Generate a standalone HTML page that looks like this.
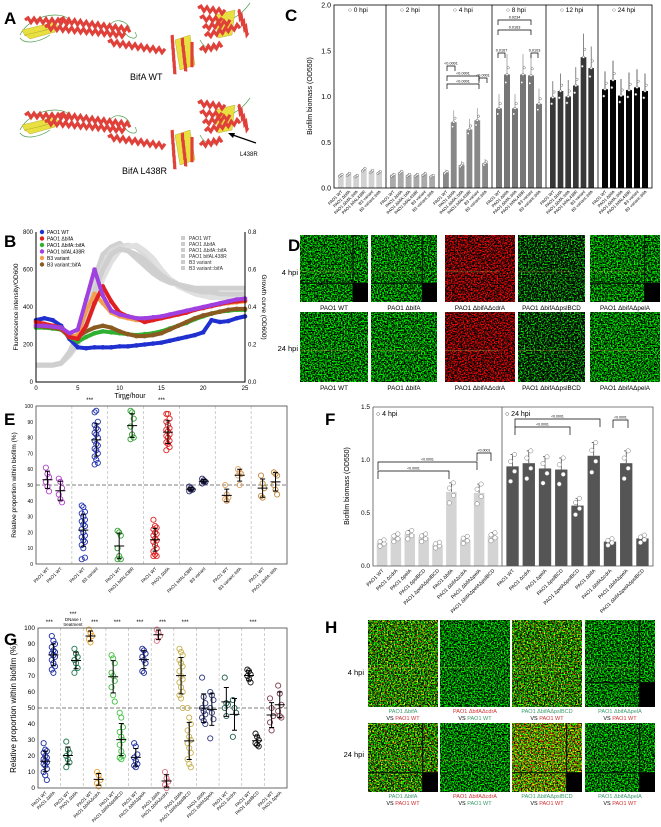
<!DOCTYPE html>
<html><head><meta charset="utf-8"><style>
html,body{margin:0;padding:0;background:#fff;}
svg{display:block;font-family:"Liberation Sans",sans-serif;}
</style></head><body>
<svg id="fig" width="661" height="827" viewBox="0 0 661 827" xmlns="http://www.w3.org/2000/svg">
<defs>
<filter id="fg" x="0" y="0" width="100%" height="100%" color-interpolation-filters="sRGB"><feTurbulence type="fractalNoise" baseFrequency="0.7" numOctaves="2" seed="3"/><feColorMatrix type="matrix" values="0 0 0 0 0  0 0 0 4 -1.6  0 0 0 0 0  0 0 0 0 1"/></filter>
<filter id="fgb" x="0" y="0" width="100%" height="100%" color-interpolation-filters="sRGB"><feTurbulence type="fractalNoise" baseFrequency="0.7" numOctaves="2" seed="7"/><feColorMatrix type="matrix" values="0 0 0 0 0.02  0 0 0 4 -1.85  0 0 0 0 0.02  0 0 0 0 1"/></filter>
<filter id="fr" x="0" y="0" width="100%" height="100%" color-interpolation-filters="sRGB"><feTurbulence type="fractalNoise" baseFrequency="0.7" numOctaves="2" seed="5"/><feColorMatrix type="matrix" values="0 0 0 4.5 -1.9  0 0 0 0 0.02  0 0 0 0 0.02  0 0 0 0 1"/></filter>
<filter id="fm" x="0" y="0" width="100%" height="100%" color-interpolation-filters="sRGB">
<feTurbulence type="fractalNoise" baseFrequency="0.7" numOctaves="2" seed="9" result="n1"/>
<feColorMatrix in="n1" type="matrix" values="0 0 0 0 0  0 0 0 4 -1.6  0 0 0 0 0  0 0 0 0 1" result="g1"/>
<feTurbulence type="fractalNoise" baseFrequency="0.7" numOctaves="2" seed="21" result="n2"/>
<feColorMatrix in="n2" type="matrix" values="0 0 0 5 -2.6  0 0 0 1.5 -0.8  0 0 0 0 0  0 0 0 0 1" result="r1"/>
<feComposite in="g1" in2="r1" operator="arithmetic" k1="0" k2="1" k3="1" k4="0"/>
</filter>
<filter id="fy" x="0" y="0" width="100%" height="100%" color-interpolation-filters="sRGB">
<feTurbulence type="fractalNoise" baseFrequency="0.7" numOctaves="2" seed="11" result="n1"/>
<feColorMatrix in="n1" type="matrix" values="0 0 0 0 0  0 0 0 4 -1.5  0 0 0 0 0  0 0 0 0 1" result="g1"/>
<feTurbulence type="fractalNoise" baseFrequency="0.7" numOctaves="2" seed="23" result="n2"/>
<feColorMatrix in="n2" type="matrix" values="0 0 0 4 -1.7  0 0 0 0 0  0 0 0 0 0  0 0 0 0 1" result="r1"/>
<feComposite in="g1" in2="r1" operator="arithmetic" k1="0" k2="1" k3="1" k4="0"/>
</filter>
</defs>
<g id="A">
<text x="4" y="24" font-size="17" font-weight="bold">A</text>
<text x="130" y="80" font-size="9">BifA WT</text>
<text x="122" y="174" font-size="9">BifA L438R</text>
<line x1="256" y1="143" x2="230" y2="134" stroke="#000" stroke-width="1.3"/>
<polygon points="228,133 235,133 233,138" fill="#000"/>
<text x="240" y="156" font-size="6">L438R</text>
</g>
<g id="B"></g><g id="C"></g><g id="D"></g><g id="E"></g><g id="F"></g><g id="G"></g><g id="H"></g>
</svg>
<script>
const NS="http://www.w3.org/2000/svg";
function mk(tag,at,p){const e=document.createElementNS(NS,tag);for(const k in at)e.setAttribute(k,at[k]);p.appendChild(e);return e;}
function tx(p,x,y,s,size,opt){const e=mk('text',Object.assign({x:x,y:y,'font-size':size||6},opt||{}),p);e.textContent=s;return e;}
function mean(a){return a.reduce((s,v)=>s+v,0)/a.length;}
function sd(a){const m=mean(a);return Math.sqrt(a.reduce((s,v)=>s+(v-m)*(v-m),0)/Math.max(1,a.length-1));}

/* ---------- Panel A decorative ribbons ---------- */
(function(){
const g=document.getElementById('A');
function helix(x1,y1,x2,y2){let d='M'+x1+' '+y1;const n=Math.round(Math.hypot(x2-x1,y2-y1)/3);for(let i=1;i<=n;i++){const t=i/n;const x=x1+(x2-x1)*t,y=y1+(y2-y1)*t;d+=' L'+x.toFixed(1)+' '+(y+(i%2?-2.2:2.2)).toFixed(1);}
const e=mk('path',{d:d,stroke:'#e0403a','stroke-width':3.2,fill:'none'},g);

}
function sheet(pts){const e=mk('polygon',{points:pts,fill:'#e8e040',stroke:'#b0a020','stroke-width':0.4},g);

}
function loop(d){const e=mk('path',{d:d,stroke:'#50a050','stroke-width':0.7,fill:'none'},g);

}
[0,95].forEach(o=>{
 loop(`M20 ${35+o} C30 ${15+o},60 ${10+o},70 ${20+o} M20 ${38+o} C25 ${45+o},40 ${42+o},50 ${35+o} M110 ${25+o} C115 ${18+o},125 ${20+o},130 ${28+o} M125 ${33+o} C130 ${40+o},140 ${40+o},135 ${32+o} M200 ${40+o} C205 ${50+o},215 ${52+o},220 ${45+o} M230 ${20+o} C240 ${15+o},245 ${10+o},250 ${3+o}`);
 sheet(`22,${30+o} 55,${22+o} 58,${26+o} 25,${36+o}`);sheet(`25,${35+o} 55,${28+o} 55,${32+o} 30,${39+o}`);
 helix(25,20+o,70,22+o);helix(60,20+o,130,30+o);helix(45,27+o,125,35+o);helix(108,42+o,165,51+o);
 sheet(`175,${40+o} 190,${35+o} 195,${65+o} 180,${70+o}`);
 helix(172,35+o,175,75+o);helix(182,38+o,186,72+o);helix(192,42+o,192,68+o);
 sheet(`215,${15+o} 235,${10+o} 232,${35+o} 218,${38+o}`);
 helix(198,8+o,225,12+o);helix(200,18+o,222,20+o);helix(203,28+o,230,22+o);helix(205,36+o,240,26+o);helix(238,10+o,248,35+o);helix(200,50+o,222,45+o);
});
})();

/* ---------- Panel B ---------- */
const bTimes=[0,1,2,3,4,5,6,7,8,9,10,11,12,13,14,15,16,17,18,19,20,21,22,23,24,25];
const bWT=[330,340,330,300,230,185,180,185,185,185,190,190,195,200,205,210,220,230,240,250,265,330,320,325,340,350];
const bBifA=[320,310,300,290,240,230,300,420,510,430,370,350,340,320,330,340,350,360,370,385,395,405,415,425,430,435];
const bComp=[290,290,285,280,240,215,240,260,270,265,260,255,250,255,260,270,285,300,315,335,350,365,375,380,385,385];
const bL438R=[300,300,295,290,260,280,440,600,460,380,360,350,340,340,345,350,360,370,380,390,400,410,420,430,440,445];
const bB3=[310,305,300,290,240,250,380,470,420,370,350,340,330,330,335,345,355,365,375,385,395,405,415,420,425,430];
const bB3c=[300,295,290,280,250,240,270,290,300,290,270,255,245,245,250,260,280,300,320,340,355,365,375,385,390,390];
const gWT=[0.09,0.09,0.09,0.1,0.16,0.25,0.4,0.55,0.68,0.72,0.74,0.7,0.66,0.62,0.58,0.55,0.53,0.52,0.51,0.5,0.5,0.5,0.5,0.5,0.5,0.5];
const gBifA=[0.09,0.09,0.09,0.1,0.15,0.22,0.35,0.5,0.62,0.7,0.72,0.73,0.72,0.68,0.63,0.58,0.55,0.52,0.5,0.49,0.48,0.47,0.46,0.46,0.45,0.45];
const gL438R=[0.09,0.09,0.09,0.1,0.14,0.2,0.3,0.42,0.55,0.64,0.7,0.72,0.73,0.7,0.66,0.6,0.55,0.51,0.49,0.47,0.46,0.45,0.45,0.44,0.44,0.44];
const gB3=[0.09,0.09,0.09,0.1,0.15,0.21,0.33,0.48,0.6,0.68,0.71,0.7,0.68,0.65,0.61,0.57,0.54,0.52,0.5,0.49,0.48,0.48,0.47,0.47,0.47,0.47];
(function(){
const g=document.getElementById('B');
const X0=36,X1=245,Y0=382,Y1=232;
const xs=t=>X0+(X1-X0)*t/25, yl=v=>Y0-(Y0-Y1)*v/800, yr=v=>Y0-(Y0-Y1)*v/0.8;
let e=tx(g,4,247,'B',17,{'font-weight':'bold'});


[gWT,gBifA,gL438R,gB3].forEach((s,i)=>{
 const l=mk('polyline',{points:s.map((v,j)=>xs(bTimes[j])+','+yr(v)).join(' '),fill:'none',stroke:['#d0d0d0','#dadada','#e0e0e0','#cfcfcf'][i],'stroke-width':5,'stroke-linejoin':'round'},g);
 
 
});
const ser=[[bWT,'#2030d0'],[bComp,'#30b030'],[bB3c,'#8a5a20'],[bB3,'#f0a050'],[bBifA,'#e02020'],[bL438R,'#a040e0']];
ser.forEach(([s,c])=>{
 const l=mk('polyline',{points:s.map((v,j)=>xs(bTimes[j])+','+yl(v)).join(' '),fill:'none',stroke:c,'stroke-width':4,'stroke-linejoin':'round'},g);
 
 
 s.forEach((v,j)=>{const m=mk('circle',{cx:xs(bTimes[j]),cy:yl(v),r:2.3,fill:c},g);
 
 });
});
const ax=mk('path',{d:`M${X0} ${Y1} V${Y0} H${X1} V${Y1}`,fill:'none',stroke:'#000','stroke-width':1},g);


[0,200,400,600,800].forEach(v=>{const t=tx(g,X0-3,yl(v)+2,String(v),6,{'text-anchor':'end'});

});
[0,0.2,0.4,0.6,0.8].forEach(v=>{const t=tx(g,X1+3,yr(v)+2,v.toFixed(1),6);

});
[0,5,10,15,20,25].forEach(v=>{const t=tx(g,xs(v),Y0+8,String(v),6,{'text-anchor':'middle'});

});
e=tx(g,130,398,'Time/hour',7,{'text-anchor':'middle'});


e=tx(g,0,0,'Fluorescence intensity/OD600',6.5,{'text-anchor':'middle',transform:'translate(18,307) rotate(-90)'});


e=tx(g,0,0,'Growth curve (OD600)',6.5,{'text-anchor':'middle',transform:'translate(262,307) rotate(90)'});


const legL=[['PAO1 WT','#2030d0'],['PAO1 ΔbifA','#e02020'],['PAO1 ΔbifA::bifA','#30b030'],['PAO1 bifAL438R','#a040e0'],['B3 variant','#f0a050'],['B3 variant::bifA','#8a5a20']];
legL.forEach(([n,c],i)=>{const m=mk('circle',{cx:42,cy:232+i*6.5,r:2.2,fill:c},g);


const t=tx(g,47,234+i*6.5,n,5);

});
legL.forEach(([n],i)=>{const m=mk('rect',{x:181,y:236+i*6,width:4,height:4,fill:'#ccc'},g);


const t=tx(g,189,240+i*6,n,5,{fill:'#333'});

});
})();

/* ---------- Panel C ---------- */
const cTimes=['0 hpi','2 hpi','4 hpi','8 hpi','12 hpi','24 hpi'];
const cStrains=['PAO1 WT','PAO1 ΔbifA','PAO1 ΔbifA::bifA','PAO1 bifAL438R','B3 variant','B3 variant::bifA'];
const c0=[0.14,0.15,0.13,0.2,0.18,0.17];
const c2=[0.14,0.17,0.14,0.14,0.15,0.13];
const c4=[0.17,0.72,0.25,0.64,0.74,0.27];
const c8=[0.87,1.24,0.87,1.24,1.23,0.92];
const c12=[0.99,1.06,1.0,1.12,1.43,1.31];
const c24=[1.08,1.18,1.01,1.07,1.1,1.06];
const cTicks=[0,0.5,1.0,1.5,2.0];
(function(){
const g=document.getElementById('C');
const L=334,R=652,Y0=188,Y1=5;const yv=v=>Y0-(Y0-Y1)*v/2.0;
const bounds=[334,386,439,492,546,598,652];
const cols=['#d2d2d2','#aaaaaa','#888888','#767676','#383838','#050505'];
let e=tx(g,285,21,'C',17,{'font-weight':'bold'});


[c0,c2,c4,c8,c12,c24].forEach((vals,p)=>{
 const w=(bounds[p+1]-bounds[p]-6)/6;
 vals.forEach((v,i)=>{const x=bounds[p]+3+i*w;
  const b=mk('rect',{x:x+1,y:yv(v),width:w-2,height:Y0-yv(v),fill:cols[p]},g);
  
  
  const er=mk('line',{x1:x+w/2,x2:x+w/2,y1:yv(v),y2:yv(v*1.18),stroke:cols[p],'stroke-width':0.6},g);
  
  
  [0.93,1.0,1.06].forEach((f,k)=>{const c=mk('circle',{cx:x+w/2+(k-1)*1.2,cy:yv(v*f),r:1.2,fill:'#fff',stroke:'#666','stroke-width':0.5},g);
  
  });
  const t=tx(g,0,0,cStrains[i],4.2,{'text-anchor':'end',transform:`translate(${x+w/2+2},${Y0+4}) rotate(-45)`});
  
  
 });
 const t=tx(g,bounds[p]+14,12,'○ '+cTimes[p],6.5);
 
 
 if(p>0){const l=mk('line',{x1:bounds[p],x2:bounds[p],y1:Y1,y2:Y0,stroke:'#000','stroke-width':0.8},g);
 
 }
});
const fr=mk('rect',{x:L,y:Y1,width:R-L,height:Y0-Y1,fill:'none',stroke:'#000','stroke-width':0.8},g);


cTicks.forEach(v=>{const t=tx(g,L-3,yv(v)+2.5,v.toFixed(1),7,{'text-anchor':'end'});

});
e=tx(g,0,0,'Biofilm biomass (OD550)',7,{'text-anchor':'middle',transform:`translate(312,96) rotate(-90)`});


[[447,455,'<0.0001',66],[447,479,'<0.0001',76],[447,479,'<0.0001',84],[479,487,'<0.0001',78],[498,505,'0.0167',53],[498,531,'0.0163',30],[498,531,'0.0234',20],[531,538,'0.0103',53]].forEach(([a,b,s,y])=>{
 const p=mk('path',{d:`M${a} ${y+5} V${y} H${b} V${y+5}`,fill:'none',stroke:'#000','stroke-width':0.7},g);
 
 
 const t=tx(g,(a+b)/2,y-1.5,s,3.8,{'text-anchor':'middle'});
 
 });
})();

/* ---------- Panel D & H images ---------- */
function img(g,x,y,w,h,f,name,strips){
 const r=mk('rect',{x:x,y:y,width:w,height:h,fill:'#000'},g);
 
 
 const n=mk('rect',{x:x,y:y,width:w,height:h,filter:'url(#'+f+')'},g);
 
 
 if(strips){const s=mk('path',{d:`M${x+w*0.78} ${y} V${y+h} M${x} ${y+h*0.72} H${x+w}`,stroke:'#0a1a0a','stroke-width':1.2},g);
 
 
 const c=mk('rect',{x:x+w*0.78,y:y+h*0.72,width:w*0.22,height:h*0.28,fill:'#000'},g);
 
 }
 const l=mk('line',{x1:x,x2:x+w*0.78,y1:y+h*0.55,y2:y+h*0.55,stroke:'#d8c050','stroke-width':0.4,opacity:0.8},g);
 
 
}
const dLabels=['PAO1 WT','PAO1 ΔbifA','PAO1 ΔbifAΔcdrA','PAO1 ΔbifAΔpslBCD','PAO1 ΔbifAΔpelA'];
(function(){
const g=document.getElementById('D');
let e=tx(g,288,251,'D',17,{'font-weight':'bold'});


const xs=[300,371,445,518,590],ws=[68,66,70,67,70];
const f1=['fg','fg','fr','fgb','fg'];
[['4 hpi',235,302,275],['24 hpi',312,382,351]].forEach(([lab,y0,y1,ly],r)=>{
 const t=tx(g,298,ly,lab,7.5,{'text-anchor':'end'});
 
 
 xs.forEach((x,i)=>{img(g,x,y0,ws[i],y1-y0,f1[i],'d-confocal-image',r===0?i!==2&&i!==3:false);
 const s=tx(g,x+ws[i]/2,y1+8,dLabels[i],6.3,{'text-anchor':'middle'});
 
 });
});
})();
(function(){
const g=document.getElementById('H');
let e=tx(g,325,633,'H',17,{'font-weight':'bold'});


const xs=[368,440,512,585],w=70;
const top=[['PAO1 ΔbifA','#3a9a6a','PAO1 WT','#d03030'],['PAO1 ΔbifAΔcdrA','#d03030','PAO1 WT','#3a9a6a'],['PAO1 ΔbifAΔpslBCD','#3a9a6a','PAO1 WT','#d03030'],['PAO1 ΔbifAΔpelA','#3a9a6a','PAO1 WT','#d03030']];
const fl=[['fm','fg','fm','fg'],['fm','fg','fy','fg']];
[['4 hpi',620,707,675],['24 hpi',723,792,757]].forEach(([lab,y0,y1,ly],r)=>{
 const t=tx(g,364,ly,lab,7.5,{'text-anchor':'end'});
 
 
 xs.forEach((x,i)=>{img(g,x,y0,w,y1-y0,fl[r][i],'h-coculture-image',r===1?i!==1:i===3);
 const a=tx(g,x+w/2,y1+6,top[i][0],5.5,{'text-anchor':'middle',fill:top[i][1]});
 
 
 const b=mk('text',{x:x+w/2,y:y1+13,'font-size':5.5,'text-anchor':'middle'},g);
 
 
 b.innerHTML=`VS <tspan fill="${top[i][3]}">${top[i][2]}</tspan>`;});
});
})();

/* ---------- Panel E ---------- */
const eLabels=['PAO1 WT','PAO1 WT','PAO1 WT','B3 variant','PAO1 WT','PAO1 bifAL438R','PAO1 WT','PAO1 ΔbifA','PAO1 bifAL438R','B3 variant','PAO1 WT','B3 variant::bifA','PAO1 WT','PAO1 ΔbifA::bifA'];
const eColors=['#b040c8','#b040c8','#2030b0','#2030b0','#30a030','#30a030','#e02020','#e02020','#202060','#202060','#e0a060','#e0a060','#c08a40','#c08a40'];
const ePts=[[61,57,55,52,49,46],[54,52,48,44,41,39],
[37,36,33,32,30,28,27,25,24,22,20,18,17,15,14,12,10,4,3],[96,97,90,88,86,85,83,82,80,78,76,75,73,72,70,68,66,64,63],
[21,20,18,10,5,3,3],[97,96,92,87,82,80,79],
[28,24,23,22,20,19,18,16,15,14,12,10,8,6,5,5],[95,95,92,90,88,86,85,84,82,81,80,78,77,76,74,72],
[49,48,47,46,47],[54,53,52,51,52],[50,44,42,41,40],[60,58,57,56,50],[56,51,48,43,42],[58,57,56,50,47,44]];
const eStars=[1,2,3];
const pctTicks=[0,10,20,30,40,50,60,70,80,90,100];
function scatterPanel(g,pfx,L,R,Y0,Y1,pts,cols,labels,stars,nG,yTitle){
 const yv=v=>Y0-(Y0-Y1)*v/100;const gw=(R-L)/nG;
 for(let k=1;k<nG;k++){const l=mk('line',{x1:L+k*gw,x2:L+k*gw,y1:Y1,y2:Y0,stroke:'#bbb','stroke-width':0.7,'stroke-dasharray':'3,2'},g);
 
 }
 const d=mk('line',{x1:L,x2:R,y1:yv(50),y2:yv(50),stroke:'#555','stroke-width':0.8,'stroke-dasharray':'4,2'},g);
 
 
 pts.forEach((arr,i)=>{const cx=L+Math.floor(i/2)*gw+gw*(i%2?0.68:0.32);
  arr.forEach((v,j)=>{const c=mk('circle',{cx:cx+((j%3)-1)*1.6,cy:yv(v),r:2.6,fill:'none',stroke:cols[i],'stroke-width':0.9},g);
  
  });
  const m=mean(arr),s=sd(arr);
  const eb=mk('path',{d:`M${cx-5} ${yv(m)} H${cx+5} M${cx} ${yv(m-s)} V${yv(m+s)} M${cx-2.5} ${yv(m-s)} H${cx+2.5} M${cx-2.5} ${yv(m+s)} H${cx+2.5}`,stroke:'#000','stroke-width':1,fill:'none'},g);
  
  
  const t=tx(g,0,0,labels[i],4.5,{'text-anchor':'end',transform:`translate(${cx+2},${Y0+5}) rotate(-45)`});
  
  
 });
 stars.forEach(k=>{const t=tx(g,L+(k+0.5)*gw,Y1-4,'***',6,{'text-anchor':'middle'});
 
 });
 const fr=mk('rect',{x:L,y:Y1,width:R-L,height:Y0-Y1,fill:'none',stroke:'#444','stroke-width':0.8},g);
 
 
 pctTicks.forEach(v=>{const t=tx(g,L-3,yv(v)+2,String(v),yTitle[1]);
 t.setAttribute('text-anchor','end');
 
 });
 const t=tx(g,0,0,yTitle[0],yTitle[2],{'text-anchor':'middle',transform:`translate(${yTitle[3]},${(Y0+Y1)/2}) rotate(-90)`});
 
 
}
(function(){
const g=document.getElementById('E');
let e=tx(g,4,425,'E',17,{'font-weight':'bold'});


scatterPanel(g,'e',36,287,564,406,ePts,eColors,eLabels,eStars,7,['Relative proportion within biofilm (%)',5,6.5,16]);
})();

/* ---------- Panel F ---------- */
const fStrains=['PAO1 WT','PAO1 ΔcdrA','PAO1 ΔpelA','PAO1 ΔpslBCD','PAO1 ΔpelAΔpslBCD','PAO1 ΔbifA','PAO1 ΔbifAΔcdrA','PAO1 ΔbifAΔpelA','PAO1 ΔbifAΔpelAΔpslBCD'];
const f4=[0.22,0.27,0.3,0.27,0.2,0.7,0.25,0.69,0.28];
const f24=[0.94,0.97,0.92,0.91,0.57,1.04,0.23,0.97,0.26];
const fTicks=[0,0.5,1.0,1.5];
(function(){
const g=document.getElementById('F');
const L=373,R=653,Y0=566,Y1=407,M=502;const yv=v=>Y0-(Y0-Y1)*v/1.5;
let e=tx(g,325,425,'F',17,{'font-weight':'bold'});


[[f4,L,'#d4d4d4'],[f24,M,'#555555']].forEach(([vals,x0,col])=>{
 const w=(x0===L?M-L:R-M)/9.3;
 vals.forEach((v,i)=>{const cx=x0+w*0.65+i*w;
  const b=mk('rect',{x:cx-w*0.38,y:yv(v),width:w*0.76,height:Y0-yv(v),fill:col},g);
  
  
  const er=mk('path',{d:`M${cx} ${yv(v)} V${yv(v*1.12)} M${cx-2} ${yv(v*1.12)} H${cx+2}`,stroke:'#333','stroke-width':0.7},g);
  
  
  [0.85,0.95,1.05,1.12].forEach((f,k)=>{const c=mk('circle',{cx:cx+(k%2?2:-2),cy:yv(v*f),r:2.2,fill:'#fff',stroke:'#777','stroke-width':0.5},g);
  
  });
  const t=tx(g,0,0,fStrains[i],5,{'text-anchor':'end',transform:`translate(${cx+2},${Y0+5}) rotate(-45)`});
  
  
 });
});
const fr=mk('path',{d:`M${L} ${Y1} V${Y0} H${R} V${Y1} H${L} M${M} ${Y1} V${Y0}`,fill:'none',stroke:'#555','stroke-width':0.8},g);


fTicks.forEach(v=>{const t=tx(g,L-3,yv(v)+2,v.toFixed(1),6.5,{'text-anchor':'end'});

});
e=tx(g,0,0,'Biofilm biomass (OD550)',7,{'text-anchor':'middle',transform:`translate(349,486) rotate(-90)`});


e=tx(g,376,416,'○ 4 hpi',7);
e=tx(g,505,416,'○ 24 hpi',7);
[[378,449,'<0.0001',471],[378,477,'<0.0001',462],[477,491,'<0.0001',453],[515,570,'<0.0001',427],[515,600,'<0.0001',419],[613,628,'<0.0001',420]].forEach(([a,b,s,y])=>{
 const p=mk('path',{d:`M${a} ${y+8} V${y} H${b} V${y+8}`,fill:'none',stroke:'#000','stroke-width':0.7},g);
 
 
 const t=tx(g,(a+b)/2,y-1.5,s,3.5,{'text-anchor':'middle'});
 
 });
})();

/* ---------- Panel G ---------- */
const gLabels=['PAO1 WT','PAO1 ΔbifA','PAO1 WT','PAO1 ΔbifA','PAO1 WT','PAO1 ΔbifAΔcdrA','PAO1 WT','PAO1 ΔbifAΔpslBCD','PAO1 WT','PAO1 ΔbifAΔpelA','PAO1 ΔbifA','PAO1 ΔbifAΔcdrA','PAO1 ΔbifA','PAO1 ΔbifAΔpslBCD','PAO1 ΔbifA','PAO1 ΔbifAΔpelA','PAO1 WT','PAO1 ΔcdrA','PAO1 WT','PAO1 ΔpslBCD','PAO1 WT','PAO1 ΔpelA'];
const gColors=['#1a2aa0','#1a2aa0','#207a50','#207a50','#e8a030','#e8a030','#40c040','#40c040','#1a2aa0','#1a2aa0','#e07080','#e07080','#c8b050','#c8b050','#303880','#303880','#206050','#206050','#111111','#111111','#804050','#804050'];
const gPts=[[28,24,23,22,20,19,18,17,16,15,14,12,10,8,5],[95,92,90,88,86,85,84,83,82,80,78,76,74,72],
[29,24,22,20,18,16,13],[87,84,82,80,78,75,72],[99,97,95,93,91],[10,8,5,3,1],
[83,81,78,72,70,67,63,58,54],[47,44,38,35,32,30,27,23,20,19,18],
[28,26,21,19,17,15,14,13],[87,86,84,82,80,78,73,72],[99,97,95,92],[10,6,4,2,0],
[87,85,83,80,78,76,73,70,68,66,63,60,58,56,50],[50,44,40,36,32,30,28,25,22,18,15,13],
[69,57,53,50,48,46,44,42,40],[60,58,55,50,47,43,31],[69,53,52,50,45],[55,50,47,32],
[74,73,71,70,68,66],[34,32,30,28,27,26],[56,50,45,41,36],[64,59,52,48,45,44]];
const gStars=[0,2,3,4,5,6,9];
(function(){
const g=document.getElementById('G');
let e=tx(g,4,645,'G',17,{'font-weight':'bold'});


scatterPanel(g,'g',38,287,788,628,gPts,gColors,gLabels,gStars,11,['Relative proportion within biofilm (%)',6.5,8,16]);
e=tx(g,73,616,'***',6,{'text-anchor':'middle'});
e=tx(g,73,621,'DNase I',4.5,{'text-anchor':'middle'});
e=tx(g,73,626,'treatment',4.5,{'text-anchor':'middle'});
})();
</script>
</body></html>
